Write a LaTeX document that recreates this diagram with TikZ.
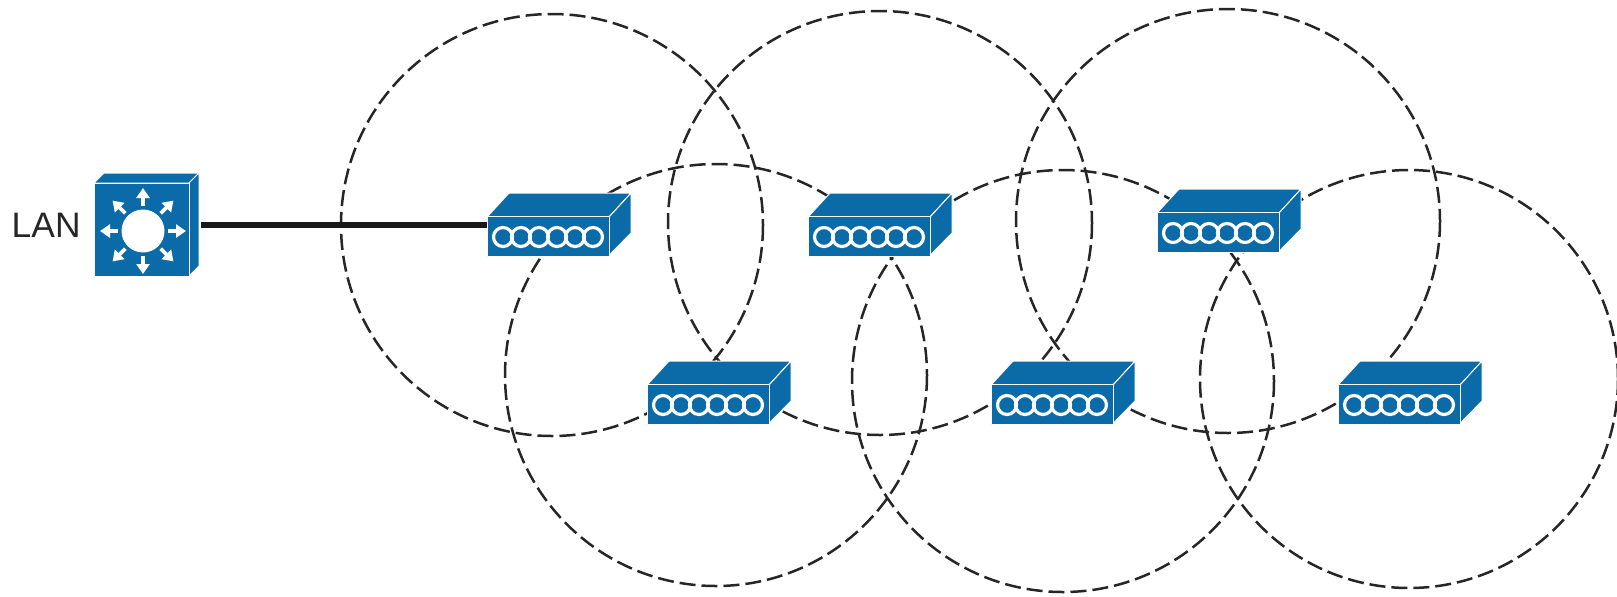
\documentclass[tikz,border=0pt]{standalone}
\usepackage{fontspec}
\setmainfont{Liberation Sans}
\usetikzlibrary{arrows.meta}

\definecolor{ciscoblue}{HTML}{0A6BA8}

\tikzset{
  cell/.style={draw=black!85, line width=1.25pt, dash pattern=on 8pt off 3pt},
  uplink/.style={draw=black!90, line width=3pt},
  blueface/.style={fill=ciscoblue, draw=white, line width=0.5pt, line join=round},
  ring/.style={draw=white, line width=1.6pt},
  ray/.style={draw=white, line width=1.9pt, -{Triangle[width=6.5pt,length=5pt]}},
  apbox/.pic={
    \path[blueface] (-61,-19) -- (-39,-43) -- (83,-43) -- (61,-19) -- cycle;
    \path[blueface] (61,-19) -- (83,-43) -- (83,-3) -- (61,19.5) -- cycle;
    \node[blueface, inner sep=0pt, minimum width=61pt, minimum height=20pt] (-front) at (0,0.5) {};
    \foreach \x in {-45,-27,-9,9,27,45} {
      \draw[ring] (\x,1) circle (9.5);
    }
  }
}

\begin{document}
\begin{tikzpicture}[x=0.5pt,y=-0.5pt]
\useasboundingbox (0,0) rectangle (1617,596);

\foreach \x/\y/\r in {
  552/225/211, 880/223/212, 1228/221/212, 716/375/211, 1063/381/211, 1409/379/209
} {
  \draw[cell] (\x,\y) circle (\r);
}

% switch
\path[blueface] (94,183) -- (104,173) -- (199,173) -- (189,183) -- cycle;
\path[blueface] (189,183) -- (199,173) -- (199,266) -- (189,276) -- cycle;
\node[blueface, inner sep=0pt, minimum width=47.5pt, minimum height=46.5pt] (switch) at (141.5,229.5) {};
\node[fill=white, circle, inner sep=0pt, minimum size=21.5pt] (hub) at (143,231) {};
\foreach \a in {0,45,...,315} {
  \draw[ray] ([shift={(\a:25)}]hub.center) -- ([shift={(\a:43)}]hub.center);
}
\node[anchor=east, font=\fontsize{17.7pt}{20pt}\selectfont, text=black!85, inner sep=0pt] (lan) at (81,225) {LAN};
\coordinate (port) at (201,225);

\pic (ap1) at (548,236) {apbox};
\pic (ap2) at (708,404) {apbox};
\pic (ap3) at (869,236) {apbox};
\pic (ap4) at (1052,404) {apbox};
\pic (ap5) at (1218,232) {apbox};
\pic (ap6) at (1399,404) {apbox};

\draw[uplink] (port) -- (ap1-front.west |- port);

\end{tikzpicture}
\end{document}
